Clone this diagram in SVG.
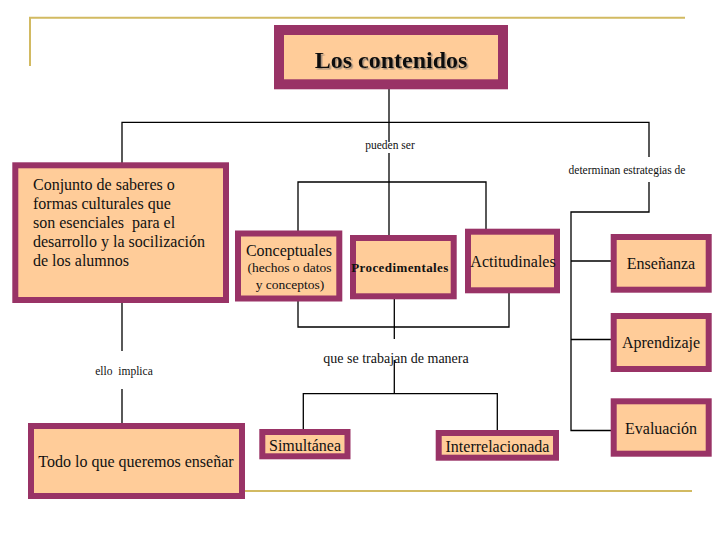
<svg xmlns="http://www.w3.org/2000/svg" width="728" height="546" viewBox="0 0 728 546">
<defs>
<style>
.box{fill:#FFCC99;stroke:#993366;stroke-width:6}
.t{font-family:"Liberation Serif","Times New Roman",serif;fill:#111;text-anchor:middle}
.l{font-family:"Liberation Serif","Times New Roman",serif;fill:#111;font-size:16px}
.s{font-size:11.5px}
.m{font-size:16px}
.c{fill:none;stroke:#000;stroke-width:1.3}
.g{fill:none;stroke:#D2BA62;stroke-width:2}
</style>
<filter id="sh" x="-10%" y="-20%" width="120%" height="150%">
<feDropShadow dx="1.5" dy="1.5" stdDeviation="0.6" flood-color="#666" flood-opacity="0.6"/>
</filter>
</defs>
<rect width="728" height="546" fill="#fff"/>
<g id="decor">
<path class="g" d="M30 66 V17.7 H685"/>
<path class="g" d="M245 491 H692"/>
</g>
<g id="connectors">
<path class="c" d="M389 89 V142"/>
<path class="c" d="M122 163 V122.3 H649 V157"/>
<path class="c" d="M389 153 V235"/>
<path class="c" d="M298 231 V182 H486 V229"/>
<path class="c" d="M649 182 V212 H571 V430.5 H611 M571 261 H611 M571 339.5 H611"/>
<path class="c" d="M122 303 V351 M122 389 V423"/>
<path class="c" d="M298 301 V327 H509 V293 M394.3 299 V339"/>
<path class="c" d="M394.3 360 V393.7 M303.3 429 V393.7 H497.3 V430"/>
<text class="t s" x="390" y="149">pueden ser</text>
<text class="t s" x="627" y="174">determinan estrategias de</text>
<text class="t s" x="124" y="375" xml:space="preserve">ello  implica</text>
<text class="t" font-size="14" x="396" y="363">que se trabajan de manera</text>
</g>
<g id="title">
<rect x="279" y="30" width="224" height="54.3" fill="#FFCC99" stroke="#993366" stroke-width="10"/>
<text class="t" x="391" y="67.5" font-size="24" font-weight="bold" fill="#000" filter="url(#sh)">Los contenidos</text>
</g>
<g id="conjunto">
<rect class="box" x="15.3" y="165.3" width="210.7" height="134.7"/>
<text class="l" x="33" y="189.5">Conjunto de saberes o</text>
<text class="l" x="33" y="208.7">formas culturales que</text>
<text class="l" x="33" y="227.9" xml:space="preserve">son esenciales  para el</text>
<text class="l" x="33" y="247.1">desarrollo y la socilización</text>
<text class="l" x="33" y="266.3">de los alumnos</text>
</g>
<g id="conceptuales">
<rect class="box" x="238" y="233.5" width="101.3" height="65"/>
<text class="t m" x="289" y="256">Conceptuales</text>
<text class="t" font-size="13.5" x="289.5" y="272">(hechos o datos</text>
<text class="t" font-size="13.5" x="290" y="289">y conceptos)</text>
</g>
<g id="procedimentales">
<rect class="box" x="353" y="238" width="100.7" height="58.3"/>
<text class="t" x="400" y="272" font-size="13" font-weight="bold" letter-spacing="0.4">Procedimentales</text>
</g>
<g id="actitudinales">
<rect class="box" x="468" y="231.7" width="89" height="58.6"/>
<text class="t m" x="513" y="267">Actitudinales</text>
</g>
<g id="ensenanza">
<rect class="box" x="613.7" y="237" width="95" height="52.7"/>
<text class="t m" x="661" y="268.6">Enseñanza</text>
</g>
<g id="aprendizaje">
<rect class="box" x="613.7" y="316" width="95" height="53"/>
<text class="t m" x="661" y="348">Aprendizaje</text>
</g>
<g id="evaluacion">
<rect class="box" x="613.7" y="401.3" width="95" height="52.4"/>
<text class="t m" x="661" y="433.5">Evaluación</text>
</g>
<g id="todo">
<rect class="box" x="31" y="426" width="211" height="70"/>
<text class="t m" x="136" y="467">Todo lo que queremos enseñar</text>
</g>
<g id="simultanea">
<rect class="box" x="262.3" y="432" width="85.2" height="24.3"/>
<text class="t m" x="305" y="450.5">Simultánea</text>
</g>
<g id="interrelacionada">
<rect class="box" x="438.7" y="433" width="117.3" height="24.7"/>
<text class="t m" x="497.5" y="452">Interrelacionada</text>
</g>
</svg>
